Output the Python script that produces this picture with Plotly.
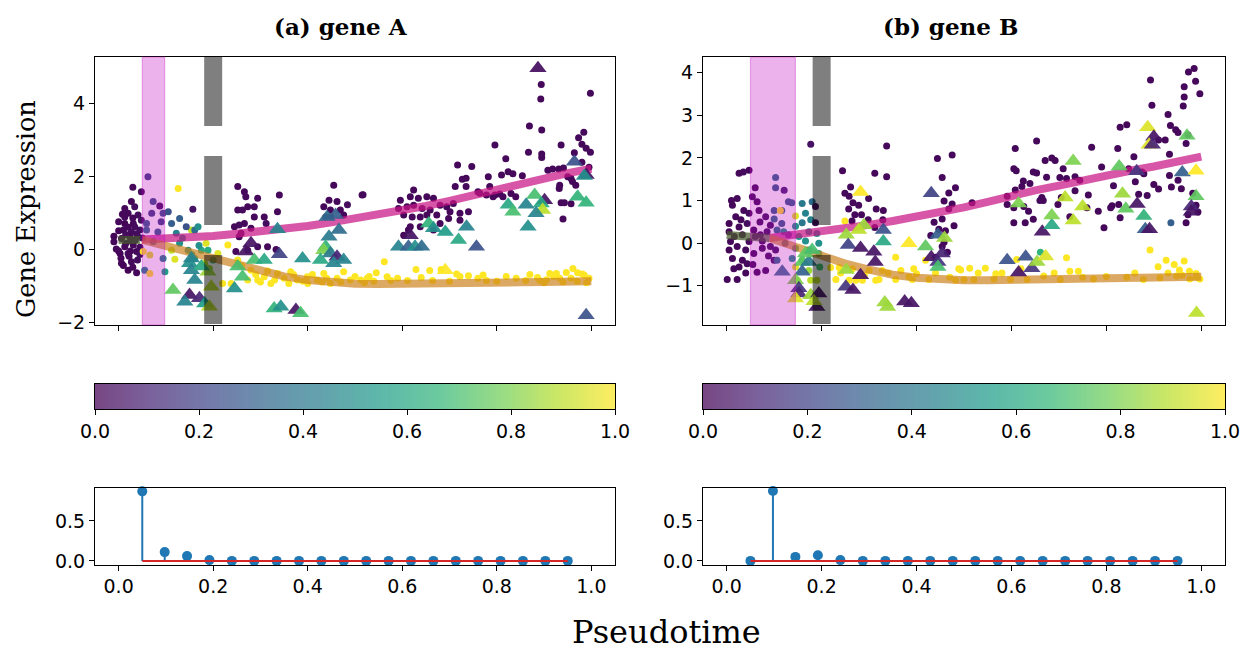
import numpy as np
import plotly.graph_objects as go

W, H = 1243, 650

# ---------------------------------------------------------------- data
# gene A: observed cells (pseudotime, expression, branch probability)
gene_a_circles = [
    # early progenitors
    (.030, 1.69, .02), (.048, 1.57, .03), (.027, 1.30, .01), (.013, 1.11, .02), (.034, 1.16, .04),
    (.020, .98, .02), (.041, .93, .03), (.013, .70, .01), (.031, .70, .02), (.048, .79, .05),
    (.010, .52, .02), (.027, .47, .03), (.045, .52, .04), (.006, .29, .01), (.024, .34, .02),
    (.041, .34, .03), (.013, .06, .02), (.031, .11, .02), (.003, -.12, .01), (.020, -.12, .03),
    (.038, -.07, .02), (.006, -.39, .02), (.027, -.35, .03), (.020, -.58, .01), (.038, -.65, .02),
    (.013, .88, .02), (.034, .61, .03), (.000, .50, .01), (-.010, .20, .02), (.005, -.25, .02),
    (.015, .40, .03), (.025, -.05, .02), (.035, .25, .04), (.045, .05, .03), (.000, .75, .02),
    (.020, .60, .02), (.010, -.45, .01), (.040, -.30, .03), (.030, .85, .02), (.050, .30, .06),
    (-.005, .00, .02), (.015, .15, .02), (.025, .22, .03), (.045, -.15, .04), (.008, .95, .02),
    (.038, .42, .03), (.022, -.20, .02), (-.010, .35, .01), (.000, -.05, .02), (.030, -.50, .02),
    (.062, 1.98, .20), (.073, 1.30, .25), (.087, 1.18, .05), (.070, .98, .20), (.059, .70, .30),
    (.094, .98, .25), (.105, 1.02, .25), (.090, .75, .20), (.052, -.07, 1.0), (.066, -.16, .95),
    (.055, -.58, .45), (.066, -.67, 1.0), (.094, -.26, .45), (.098, -.62, .55), (.059, .52, .35),
    (.083, .47, .30), (.073, .20, .35),
    # first time point after the branch
    (.112, .70, .30), (.129, .84, .30), (.154, .52, .90), (.157, 1.09, .05), (.161, .52, .35),
    (.143, .61, .25), (.122, .43, .45), (.168, .61, .50), (.129, .16, .50), (.147, -.03, .50),
    (.175, -.03, .60), (.189, -.03, .60), (.185, .16, .95), (.112, -.03, .90), (.119, -.28, .95),
    (.161, -.26, .60), (.182, -.39, .90), (.192, -.53, .85), (.210, -.12, .95), (.231, .11, 1.0),
    (.220, -.94, 1.0), (.238, -.94, 1.0), (.126, 1.66, 1.0), (.135, .30, .55), (.170, .10, .50),
    (.200, -.30, .65), (.155, -.15, .55),
    # upper branch
    (.252, 1.71, .02), (.266, 1.57, .02), (.269, 1.43, .03), (.294, 1.39, .02), (.340, 1.48, .02),
    (.252, 1.07, .02), (.262, 1.07, .03), (.273, 1.16, .02), (.287, 1.16, .02), (.245, .61, .02),
    (.255, .66, .03), (.266, .70, .02), (.280, .57, .02), (.308, .88, .02), (.312, .70, .03),
    (.336, 1.02, .02), (.248, -.07, .02), (.273, -.03, .02), (.294, .06, .03), (.315, .06, .02),
    (.333, -.01, .02), (.255, .34, .02), (.259, .43, .02), (.287, .88, .02),
    (.455, 1.75, .02), (.445, 1.34, .02), (.462, 1.30, .02), (.484, 1.21, .03), (.434, 1.16, .02),
    (.448, 1.07, .02), (.469, 1.07, .02), (.476, .93, .02), (.448, .88, .02), (.438, .88, .03),
    (.515, 1.48, .02),
    (.894, 4.51, .02), (.893, 4.11, .02), (.998, 4.27, .02), (.869, 3.37, .02), (.895, 3.26, .02),
    (.796, 2.85, .02), (.867, 2.65, .02), (.895, 2.60, .02), (.895, 2.51, .02), (.936, 2.85, .02),
    (.984, 3.20, .02), (.973, 3.05, .02), (.980, 2.87, .02), (.989, 2.76, .02), (.998, 2.65, .02),
    (.964, 2.64, .02), (.819, 2.47, .02), (.717, 2.30, .02), (.747, 2.26, .02), (.735, 1.94, .02),
    (.727, 1.91, .02), (.712, 1.71, .02), (.735, 1.71, .02), (.782, 1.98, .02), (.810, 2.03, .02),
    (.824, 2.12, .02), (.834, 2.06, .02), (.854, 2.01, .02), (.785, 1.71, .02), (.796, 1.48, .02),
    (.806, 1.51, .02), (.813, 1.43, .02), (.830, 1.52, .02), (.840, 1.43, .02), (.764, 1.53, .02),
    (.908, 2.16, .02), (.918, 2.19, .02), (.931, 2.19, .02), (.941, 2.22, .02), (.933, 1.75, .02),
    (.932, 1.66, .02), (.950, 1.98, .02), (.957, 1.93, .02), (.960, 1.85, .02), (.967, 1.75, .02),
    (.936, 1.27, .02), (.943, 1.27, .02), (.957, 1.24, .02), (.940, .82, .02), (.980, 2.38, .02),
    (.995, 2.24, .02), (.517, 1.49, .02), (.624, 1.62, .02), (.596, 1.34, .02), (.617, 1.43, .02),
    (.634, 1.39, .02), (.652, 1.43, .02), (.666, 1.39, .02), (.592, 1.11, .02), (.610, 1.16, .02),
    (.624, 1.20, .02), (.642, 1.11, .02), (.659, 1.07, .02), (.680, 1.20, .02), (.694, 1.16, .02),
    (.701, 1.02, .02), (.708, 1.25, .02), (.603, .93, .02), (.621, .88, .02), (.638, .88, .02),
    (.652, .93, .02), (.673, .93, .02), (.698, .84, .02), (.722, .79, .02), (.722, .98, .02),
    (.740, 1.02, .02), (.603, .38, .02), (.613, .52, .02), (.617, .61, .02), (.680, .70, .02),
    (.638, .61, .02), (.666, .52, .02), (.778, 1.48, .02), (.792, 1.43, .02), (.760, 1.57, .02),
    # lower branch
    (.252, -.30, .98), (.280, -.58, 1.0), (.308, -.76, 1.0), (.322, -.94, 1.0), (.336, -.67, .99),
    (.364, -.62, 1.0), (.378, -.85, 1.0), (.399, -.76, 1.0), (.420, -.85, 1.0), (.434, -.67, 1.0),
    (.448, -.94, 1.0), (.462, -.80, 1.0), (.476, -.62, 1.0), (.490, -.85, 1.0), (.512, -.85, 1.0),
    (.526, -.80, 1.0), (.294, -.85, 1.0), (.273, -.85, 1.0), (.360, -.94, 1.0), (.400, -.94, 1.0),
    (.562, -.35, 1.0), (.545, -.65, 1.0), (.530, -.75, 1.0), (.568, -.76, 1.0), (.629, -.56, 1.0),
    (.658, -.59, 1.0), (.682, -.56, 1.0), (.715, -.68, 1.0), (.722, -.75, 1.0), (.740, -.73, 1.0),
    (.771, -.71, 1.0), (.778, -.86, 1.0), (.611, -.86, 1.0), (.576, -.86, 1.0), (.664, -.86, 1.0),
    (.841, -.80, 1.0), (.861, -.86, 1.0), (.886, -.78, 1.0), (.912, -.67, 1.0), (.926, -.67, 1.0),
    (.947, -.64, 1.0), (.961, -.53, 1.0), (.971, -.65, 1.0), (.981, -.68, 1.0), (.933, -.80, 1.0),
    (.957, -.80, 1.0), (.995, -.80, 1.0), (.905, -.84, 1.0), (.891, -.86, 1.0),
    (.260, -.45, 1.0), (.290, -.70, 1.0), (.300, -.90, 1.0), (.315, -.60, 1.0), (.330, -.85, 1.0),
    (.350, -.80, 1.0), (.370, -.70, 1.0), (.390, -.88, 1.0), (.410, -.70, 1.0), (.430, -.90, 1.0),
    (.440, -.80, 1.0), (.470, -.90, 1.0), (.500, -.75, 1.0), (.520, -.92, 1.0), (.540, -.88, 1.0),
    (.590, -.80, 1.0), (.640, -.78, 1.0), (.700, -.88, 1.0), (.760, -.80, 1.0), (.800, -.88, 1.0),
    (.820, -.75, 1.0), (.870, -.70, 1.0), (.900, -.92, 1.0), (.920, -.75, 1.0), (.940, -.90, 1.0),
    (.970, -.88, 1.0), (.990, -.92, 1.0), (.985, -.72, 1.0),
]

# gene A: held-out cells
gene_a_triangles = [
    (.115, -1.12, .75), (.150, -.39, .50), (.154, -.58, .45), (.161, -.85, .45), (.150, -1.26, .05),
    (.171, -1.35, .10), (.140, -1.44, .45), (.182, -1.49, .55), (.192, -1.58, .90), (.196, -1.03, .90),
    (.189, -.62, .85), (.175, -.48, .60), (.154, -.26, .45), (.252, -.48, .70), (.262, -.76, .70),
    (.245, -1.08, .50), (.280, .16, .05), (.269, -.07, .05), (.287, -.30, .70), (.308, -.30, .60),
    (.340, -.14, .20), (.389, -.26, .50), (.336, .54, .45), (.329, -1.63, .65), (.343, -1.58, .50),
    (.375, -1.67, .05), (.385, -1.76, .70), (.441, .88, .35), (.459, .93, .30), (.466, .52, .35),
    (.445, .34, .40), (.438, .06, .65), (.434, -.03, .80), (.448, -.12, .40), (.462, -.21, .10),
    (.455, -.39, .45), (.476, -.30, .45), (.427, -.30, .60),
    (.887, 4.95, .03), (.964, 2.39, .25), (.989, 2.03, .05), (.985, 2.00, .50), (.901, 1.34, .05),
    (.880, 1.48, .70), (.894, 1.25, .60), (.897, 1.07, .90), (.883, .98, .45), (.862, 1.21, .45),
    (.824, 1.21, .60), (.834, 1.02, .70), (.866, .61, .50), (.971, 1.43, .65), (.989, 1.27, .65),
    (.989, -1.81, .25), (.656, .70, .65), (.666, .57, .50), (.691, .47, .55), (.736, .61, .45),
    (.719, .25, .60), (.757, .06, .25), (.592, .06, .45), (.613, .06, .30), (.627, .06, .50),
    (.641, .06, .35), (.617, .38, .05), (.691, -.58, 1.0),
]

gene_b_circles = [
    (.026, 1.64, .02), (.047, 1.71, .02), (.035, 1.67, .03), (.012, .89, .02), (.022, 1.05, .02),
    (.054, 1.09, .04), (.064, .97, .03), (.036, .77, .02), (.005, .46, .01), (.019, .62, .02),
    (.047, .70, .03), (.068, .77, .04), (.082, .62, .05), (.005, .27, .02), (.026, .38, .02),
    (.043, .46, .03), (.057, .31, .03), (.071, .20, .04), (.085, .27, .05), (.005, -.16, .01),
    (.022, -.08, .02), (.040, -.16, .03), (.057, -.24, .03), (.075, -.12, .04), (.092, -.08, .05),
    (.012, -.36, .02), (.033, -.40, .02), (.026, -.56, .02), (.043, -.48, .03), (.064, -.68, .03),
    (.082, -.64, .04), (.001, -.85, .02), (.022, -.85, .02), (.100, -.40, .05), (.103, -.16, .06),
    (.092, .42, .05), (.060, .16, .03), (.033, .20, .02), (.016, .16, .02), (.008, .04, .02),
    (.047, .04, .03), (.030, .55, .02), (.070, .50, .04), (.055, -.50, .03), (.015, -.60, .02),
    (.075, .05, .04), (.088, -.30, .05), (.010, 1.00, .02), (.060, 1.30, .03), (.040, -.70, .02),
    (.103, 1.54, .35), (.103, 1.30, .30), (.121, 1.24, .10), (.130, .97, .30), (.137, .95, .30),
    (.100, .77, .30), (.116, .77, .35), (.100, .57, .35), (.116, .46, .30), (.106, .31, .35),
    (.130, .20, .35), (.123, .00, .30), (.106, -.40, .35), (.120, .27, .50), (.113, .77, 1.0),
    (.159, .93, .40), (.180, .97, .35), (.166, .70, .45), (.177, .55, .45), (.159, .48, .40),
    (.145, .40, .50), (.187, .86, .05), (.187, .48, .05), (.173, .27, .50), (.190, .23, .50),
    (.152, .16, .55), (.166, .05, .50), (.194, .00, .50), (.145, -.12, .50), (.173, -.16, .55),
    (.194, -.24, .60), (.138, -.36, .50), (.159, -.40, .55), (.173, -.64, .85), (.145, -.56, .95),
    (.145, .64, .95), (.177, 2.32, .05), (.177, -.87, .90), (.190, -.87, .90), (.149, -.87, .90),
    (.196, -.56, .70),
    (.244, 1.70, .02), (.312, 1.64, .02), (.337, 2.28, .02), (.337, 1.56, .02), (.261, 1.32, .02),
    (.249, 1.17, .02), (.258, 1.10, .02), (.266, .95, .02), (.278, .89, .02), (.299, 1.05, .02),
    (.315, .80, .02), (.330, .77, .02), (.257, .80, .02), (.270, .67, .02), (.284, .67, .02),
    (.298, .55, .02), (.264, .52, .02), (.312, .37, .02), (.329, .55, .02),
    (.444, 1.99, .02), (.475, 2.07, .02), (.454, 1.54, .02), (.482, 1.30, .02), (.468, 1.18, .02),
    (.458, .99, .02), (.475, .92, .02), (.468, .80, .02), (.437, .49, .02), (.454, .57, .02),
    (.447, .33, .02), (.461, .29, .02), (.479, .41, .02), (.430, .18, .02), (.458, .02, .02),
    (.465, -.21, .02), (.440, -.33, .02), (.454, -.08, .02),
    (.517, .95, .02), (.608, 2.22, .02), (.653, 2.40, .02), (.605, 1.75, .02), (.610, 1.70, .02),
    (.625, 1.46, .02), (.639, 1.40, .02), (.646, 1.67, .02), (.653, 1.65, .02), (.671, 1.94, .02),
    (.685, 2.00, .02), (.692, 1.94, .02), (.674, 1.55, .02), (.664, 1.07, .02), (.667, 1.00, .02),
    (.702, 1.54, .02), (.591, 1.10, .02), (.591, .91, .02), (.608, 1.25, .02), (.622, 1.33, .02),
    (.605, .83, .02), (.626, .86, .02), (.636, .75, .02), (.629, .48, .02), (.646, .56, .02),
    (.605, .48, .02), (.660, 1.00, .02), (.698, .91, .02), (.709, 1.75, .02), (.716, 1.52, .02),
    (.734, 1.56, .02), (.723, .62, .02), (.744, 1.48, .02), (.762, 1.13, .02), (.769, 2.25, .02),
    (.783, .75, .02), (.734, 1.23, .02), (.705, 1.07, .02), (.790, 1.79, .02), (.795, .36, .02),
    (.824, 2.22, .02), (.829, 2.72, .02), (.843, 2.78, .02), (.815, 1.35, .02), (.812, .88, .02),
    (.829, .60, .02), (.847, 1.75, .02), (.858, 2.03, .02), (.861, 1.44, .02), (.868, 1.15, .02),
    (.875, 1.67, .02), (.879, 1.63, .02), (.886, 1.12, .02), (.900, 1.38, .02), (.910, 1.27, .02),
    (.893, 3.83, .02), (.896, 3.24, .02), (.910, 2.42, .02), (.924, 2.42, .02), (.930, 3.02, .02),
    (.935, 2.76, .02), (.946, 2.66, .02), (.951, 2.60, .02), (.933, 2.09, .02), (.933, 1.59, .02),
    (.937, 1.32, .02), (.951, 1.48, .02), (.958, 1.28, .02), (.968, 2.34, .02), (.972, 2.54, .02),
    (.973, 4.02, .02), (.985, 4.10, .02), (.964, 3.67, .02), (.964, 3.43, .02), (.962, 3.22, .02),
    (.988, 3.80, .02), (.997, 3.51, .02), (.968, .48, .02), (.972, .67, .02), (.982, 1.17, .02),
    (.989, .89, .02), (.993, .73, .02), (.809, .83, .02), (.826, .91, .02), (.759, .83, .02),
    (.936, .48, .30), (.661, -.21, .65),
    (.219, -.57, 1.0), (.237, -.57, 1.0), (.230, -.85, 1.0), (.258, -.87, 1.0), (.286, -.87, 1.0),
    (.321, -.85, 1.0), (.356, -.85, 1.0), (.384, -.79, 1.0), (.356, -.33, 1.0), (.394, -.60, 1.0),
    (.419, -.40, 1.0), (.426, -.85, 1.0), (.489, -.60, 1.0), (.328, -.64, 1.0), (.367, -.64, 1.0),
    (.300, -.64, 1.0), (.314, -.87, 1.0), (.272, -.87, 1.0), (.391, -.85, 1.0), (.482, -.87, 1.0),
    (.249, .52, 1.0),
    (.493, -.63, 1.0), (.512, -.59, 1.0), (.545, -.59, 1.0), (.611, -.38, 1.0), (.716, -.34, 1.0),
    (.723, -.66, 1.0), (.741, -.66, 1.0), (.892, -.16, 1.0), (.909, -.55, 1.0), (.926, -.40, 1.0),
    (.943, -.50, 1.0), (.964, -.42, 1.0), (.954, -.63, 1.0), (.975, -.66, 1.0), (.989, -.71, 1.0),
    (.521, -.85, 1.0), (.563, -.84, 1.0), (.598, -.85, 1.0), (.633, -.85, 1.0), (.668, -.77, 1.0),
    (.703, -.85, 1.0), (.773, -.84, 1.0), (.843, -.80, 1.0), (.878, -.85, 1.0), (.913, -.81, 1.0),
    (.948, -.77, 1.0), (.976, -.84, 1.0), (.997, -.84, 1.0), (.567, -.72, 1.0),
    (.240, -.70, 1.0), (.265, -.60, 1.0), (.290, -.75, 1.0), (.340, -.70, 1.0), (.400, -.72, 1.0),
    (.440, -.70, 1.0), (.470, -.80, 1.0), (.500, -.85, 1.0), (.530, -.70, 1.0), (.580, -.70, 1.0),
    (.620, -.60, 1.0), (.690, -.70, 1.0), (.750, -.80, 1.0), (.800, -.78, 1.0), (.860, -.70, 1.0),
    (.930, -.70, 1.0), (.960, -.75, 1.0), (.990, -.80, 1.0),
]

gene_b_triangles = [
    (.117, -.67, .35), (.159, -.44, .75), (.159, -.67, .30), (.145, -.87, .80), (.152, -1.06, .15),
    (.152, -1.18, .10), (.145, -1.30, .95), (.177, -1.22, .85), (.194, -1.18, .05), (.190, -1.50, .05),
    (.184, -1.36, .90), (.173, -.44, .40), (.166, -.24, .75), (.180, -.16, .70),
    (.282, 1.20, 1.0), (.289, .42, .85), (.278, .31, .90), (.252, .20, .85), (.256, -.04, .20),
    (.282, -.11, .05), (.310, -.20, .05), (.313, -.44, .05), (.282, -.75, .05), (.252, -.63, .85),
    (.251, -1.02, .15), (.266, -1.10, .05), (.330, .31, .25), (.330, .04, .60), (.384, .00, 1.0),
    (.419, -.08, .75), (.431, -.33, .05), (.445, -.44, .15), (.454, -.24, .10), (.445, -.56, .70),
    (.431, 1.17, .20), (.445, .20, .30), (.459, .12, .85), (.333, -1.39, .85), (.339, -1.50, .85),
    (.375, -1.37, .05), (.389, -1.41, .05),
    (.615, .93, .80), (.665, .27, .05), (.685, .42, .60), (.685, .65, .80), (.713, 1.07, .90),
    (.730, 1.93, .80), (.750, .86, .90), (.730, .53, .90), (.591, -.40, .25), (.630, -.32, .25),
    (.615, -.69, .05), (.643, -.59, .15), (.654, -.44, .85), (.672, -.31, .95), (.827, 1.80, .75),
    (.834, 1.16, .85), (.841, .81, .75), (.864, 1.69, .15), (.865, .92, .05), (.879, .64, .65),
    (.882, .33, .30), (.891, .33, .05), (.887, 2.72, .95), (.900, 2.50, .05), (.890, 2.31, .95),
    (.897, 2.31, .10), (.970, 2.52, .75), (.960, 1.66, .30), (.989, 1.70, 1.0), (.989, 1.10, .75),
    (.979, .86, .10), (.979, .74, .05), (.990, -1.64, .90),
]

# fitted branch trends
curve_t = [.05, .10, .15, .20, .25, .30, .35, .40, .45, .50,
           .55, .60, .65, .70, .75, .80, .85, .90, .95, 1.0]
gene_a_upper = [.26, .28, .32, .36, .42, .48, .55, .63, .73, .83,
                .95, 1.07, 1.18, 1.32, 1.48, 1.63, 1.80, 1.95, 2.08, 2.20]
gene_a_lower = [.25, .08, -.10, -.28, -.46, -.62, -.75, -.85, -.92, -.95,
                -.96, -.96, -.95, -.94, -.93, -.92, -.91, -.90, -.89, -.88]
gene_a_trunk_t = [0.0, 0.045]
gene_a_trunk = [0.25, 0.25]

curve_t_b = [.09, .15, .20, .25, .30, .35, .40, .45, .50, .55,
             .60, .65, .70, .75, .80, .85, .90, .95, 1.0]
gene_b_upper = [.12, .20, .25, .33, .43, .52, .62, .73, .84, .97,
                1.12, 1.24, 1.35, 1.48, 1.60, 1.70, 1.80, 1.91, 2.03]
gene_b_lower = [.12, -.10, -.31, -.48, -.62, -.74, -.81, -.85, -.87, -.87,
                -.86, -.86, -.85, -.84, -.83, -.82, -.81, -.80, -.79]
gene_b_trunk_t = [0.0, 0.09]
gene_b_trunk = [0.19, 0.12]

# highlighted window and branch time
gene_a_window = (0.05, 0.0974)
gene_b_window = (0.05, 0.1447)
branch_time = 0.2

# branch-point probability per pseudotime bin
bin_t = [.05, .0974, .1447, .1921, .2395, .2868, .3342, .3816, .4289, .4763,
         .5237, .5711, .6184, .6658, .7132, .7605, .8079, .8553, .9026, .95]
gene_a_prob = [.87, .11, .06, .01, 0, 0, 0, 0, 0, 0, 0, 0, 0, 0, 0, 0, 0, 0, 0, 0]
gene_b_prob = [0, .875, .05, .07, .01, 0, 0, 0, 0, 0, 0, 0, 0, 0, 0, 0, 0, 0, 0, 0]

# ---------------------------------------------------------------- layout helpers
def px_x(a, b):
    return [a / W, b / W]

def px_y(top, bottom):
    return [1 - bottom / H, 1 - top / H]

COL_X = [px_x(95, 615), px_x(703, 1225)]
TOP_Y = px_y(57, 325)
CBAR_Y = px_y(384, 409)
STEM_Y = px_y(487.5, 564.5)

TICKFONT = dict(family="DejaVu Sans", size=19, color="black")
VIRIDIS = "Viridis"

fig = go.Figure()


def unzip(rows):
    return [r[0] for r in rows], [r[1] for r in rows], [r[2] for r in rows]


def add_top(k, circles, tris, t_up, up, lo, trunk_t, trunk):
    xa, ya = f"x{k}" if k > 1 else "x", f"y{k}" if k > 1 else "y"
    t, v, c = unzip(circles)
    fig.add_trace(go.Scatter(
        x=t, y=v, mode="markers", xaxis=xa, yaxis=ya,
        marker=dict(size=7, color=c, colorscale=VIRIDIS, cmin=0, cmax=1,
                    line=dict(width=0))))
    fig.add_trace(go.Scatter(x=t_up, y=up, mode="lines", xaxis=xa, yaxis=ya,
                             line=dict(color="rgba(199,21,133,0.72)", width=8)))
    fig.add_trace(go.Scatter(x=t_up, y=lo, mode="lines", xaxis=xa, yaxis=ya,
                             line=dict(color="rgba(204,128,26,0.68)", width=8)))
    fig.add_trace(go.Scatter(x=trunk_t, y=trunk, mode="lines", xaxis=xa, yaxis=ya,
                             line=dict(color="rgba(70,90,45,0.72)", width=8)))
    t, v, c = unzip(tris)
    fig.add_trace(go.Scatter(
        x=t, y=v, mode="markers", xaxis=xa, yaxis=ya,
        marker=dict(size=15, symbol="triangle-up", color=c, colorscale=VIRIDIS,
                    cmin=0, cmax=1, opacity=0.92, line=dict(width=0))))


add_top(1, gene_a_circles, gene_a_triangles, curve_t, gene_a_upper, gene_a_lower,
        gene_a_trunk_t, gene_a_trunk)
add_top(2, gene_b_circles, gene_b_triangles, curve_t_b, gene_b_upper, gene_b_lower,
        gene_b_trunk_t, gene_b_trunk)

# colour bars drawn as a one-row heatmap
grad = np.linspace(0, 1, 257)
edges = np.linspace(0, 1, 258)
for k in (3, 4):
    fig.add_trace(go.Heatmap(z=[grad], x=edges, y=[0, 1], colorscale=VIRIDIS,
                             zmin=0, zmax=1, showscale=False, opacity=0.72,
                             xaxis=f"x{k}", yaxis=f"y{k}", hoverinfo="skip"))

# stem plots
for k, prob in ((5, gene_a_prob), (6, gene_b_prob)):
    sx, sy = [], []
    for t, p in zip(bin_t, prob):
        sx += [t, t, None]
        sy += [0, p, None]
    fig.add_trace(go.Scatter(x=sx, y=sy, mode="lines", xaxis=f"x{k}", yaxis=f"y{k}",
                             line=dict(color="#1f77b4", width=2)))
    fig.add_trace(go.Scatter(x=bin_t, y=prob, mode="markers", xaxis=f"x{k}", yaxis=f"y{k}",
                             marker=dict(color="#1f77b4", size=10), cliponaxis=False))
    fig.add_trace(go.Scatter(x=[bin_t[0], bin_t[-1]], y=[0, 0], mode="lines",
                             xaxis=f"x{k}", yaxis=f"y{k}",
                             line=dict(color="#d62728", width=2)))

# ---------------------------------------------------------------- axes
frame = dict(showgrid=False, zeroline=False, showline=True, mirror=True,
             linecolor="black", linewidth=1, ticks="outside", ticklen=5,
             tickwidth=1, tickcolor="black", tickfont=TICKFONT, automargin=False)
xticks = [0, .2, .4, .6, .8, 1.0]
xtext = ["0.0", "0.2", "0.4", "0.6", "0.8", "1.0"]

layout = dict(
    width=W, height=H, margin=dict(l=0, r=0, t=0, b=0, autoexpand=False),
    paper_bgcolor="white", plot_bgcolor="white", showlegend=False,
    xaxis=dict(frame, domain=COL_X[0], range=[-0.05, 1.05], tickvals=xticks,
               showticklabels=False, anchor="y"),
    yaxis=dict(frame, domain=TOP_Y, range=[-2.08, 5.26], tickvals=[-2, 0, 2, 4],
               ticktext=["\u22122", "0", "2", "4"], anchor="x"),
    xaxis2=dict(frame, domain=COL_X[1], range=[-0.05, 1.05], tickvals=xticks,
                showticklabels=False, anchor="y2"),
    yaxis2=dict(frame, domain=TOP_Y, range=[-1.92, 4.37], tickvals=[-1, 0, 1, 2, 3, 4],
                ticktext=["\u22121", "0", "1", "2", "3", "4"], anchor="x2"),
)
for k, col in ((3, 0), (4, 1)):
    layout[f"xaxis{k}"] = dict(frame, domain=COL_X[col], range=[0, 1], tickvals=xticks,
                               ticktext=xtext, anchor=f"y{k}")
    layout[f"yaxis{k}"] = dict(frame, domain=CBAR_Y, range=[0, 1], ticks="",
                               showticklabels=False, anchor=f"x{k}")
for k, col in ((5, 0), (6, 1)):
    layout[f"xaxis{k}"] = dict(frame, domain=COL_X[col], range=[-0.05, 1.05],
                               tickvals=xticks, ticktext=xtext, anchor=f"y{k}")
    layout[f"yaxis{k}"] = dict(frame, domain=STEM_Y, range=[-0.045, 0.918],
                               tickvals=[0, 0.5], ticktext=["0.0", "0.5"], anchor=f"x{k}")
fig.update_layout(**layout)

# ---------------------------------------------------------------- overlays
shapes = []
for xa, win in (("x", gene_a_window), ("x2", gene_b_window)):
    shapes.append(dict(type="rect", xref=xa, yref=f"{'y' if xa == 'x' else 'y2'} domain",
                       x0=win[0], x1=win[1], y0=0, y1=1, layer="above",
                       fillcolor="rgba(191,0,191,0.3)",
                       line=dict(color="rgba(191,0,191,0.3)", width=1.2)))
    shapes.append(dict(type="line", xref=xa, yref=f"{'y' if xa == 'x' else 'y2'} domain",
                       x0=branch_time, x1=branch_time, y0=1, y1=0, layer="above",
                       line=dict(color="rgba(0,0,0,0.5)", width=18, dash="69px,30px")))
fig.update_layout(shapes=shapes)

serif = "DejaVu Serif"
ann = [
    dict(text="<b>(a) gene A</b>", x=341 / W, y=1 - 26 / H),
    dict(text="<b>(b) gene B</b>", x=950 / W, y=1 - 26 / H),
]
annotations = []
for a in ann:
    annotations.append(dict(a, xref="paper", yref="paper", showarrow=False,
                            xanchor="center", yanchor="middle",
                            font=dict(family=serif, size=23, color="black")))
annotations.append(dict(text="Gene Expression", x=26 / W, y=1 - 209 / H, xref="paper",
                        yref="paper", showarrow=False, textangle=-90,
                        xanchor="center", yanchor="middle",
                        font=dict(family=serif, size=25.5, color="black")))
annotations.append(dict(text="Pseudotime", x=667 / W, y=1 - 632 / H, xref="paper",
                        yref="paper", showarrow=False, xanchor="center",
                        yanchor="middle",
                        font=dict(family=serif, size=32, color="black")))
fig.update_layout(annotations=annotations)

fig.write_html("out.html")
